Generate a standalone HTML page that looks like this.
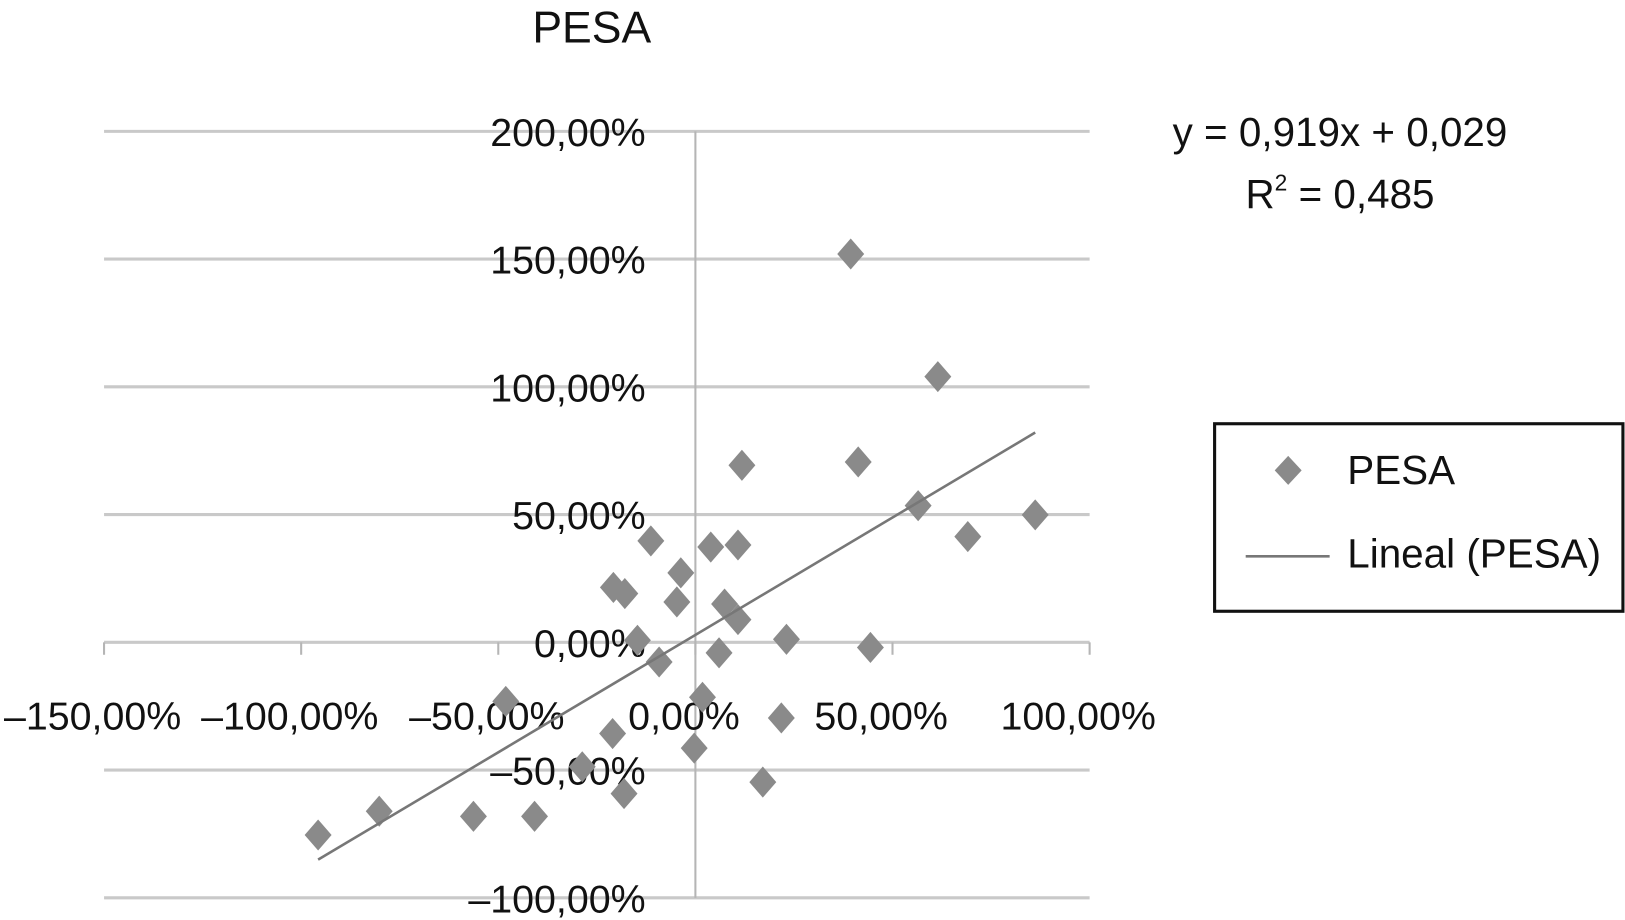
<!DOCTYPE html>
<html><head><meta charset="utf-8"><style>
html,body{margin:0;padding:0;background:#fff;}
svg{display:block;font-family:"Liberation Sans",sans-serif;}
</style></head><body>
<svg id="chart" width="1625" height="920" viewBox="0 0 1568 888" preserveAspectRatio="none">
<text x="571" y="41" font-size="43" text-anchor="middle" fill="#111">PESA</text>
<g id="grid"></g><g id="axes"></g><g id="marks"></g>
<text x="1293" y="141" font-size="39" text-anchor="middle" fill="#111">y = 0,919x + 0,029</text>
<text x="1293" y="201" font-size="39" text-anchor="middle" fill="#111">R<tspan font-size="22" dy="-17">2</tspan><tspan dy="17"> = 0,485</tspan></text>
<g>
<rect x="1172" y="409" width="394" height="181" fill="#fff" stroke="#111" stroke-width="3"/>
<path d="M1243 440 L1256 454 L1243 468 L1230 454 Z" fill="#8a8a8a"/>
<text x="1300" y="467" font-size="39" fill="#111">PESA</text>
<line x1="1202" y1="537" x2="1283" y2="537" stroke="#777" stroke-width="2.5"/>
<text x="1300" y="548" font-size="39" fill="#111">Lineal (PESA)</text>
</g>
</svg>
<script>
const xVals=[39.4,61.5,41.3,11.8,56.5,86.2,69.1,-11.3,3.9,10.8,-3.7,-20.8,-17.9,-4.7,7.4,10.8,-14.7,23.1,44.4,6.0,-9.2,1.8,-48.1,21.8,-21.0,-0.3,-28.7,17.1,-18.1,-56.3,-40.8,-80.2,-95.7];
const yVals=[152,104,70.6,69.3,53.5,49.9,41.4,39.7,37.3,38.1,27.2,21.5,19.1,15.8,15.0,8.9,0.8,1.2,-2.0,-4.1,-7.7,-21.5,-23.1,-29.6,-35.7,-41.4,-48.7,-54.7,-59.2,-68.1,-68.1,-66.1,-75.4];
const xTicks=[-150,-100,-50,0,50,100];
const xTickLabels=["\u2013150,00%","\u2013100,00%","\u201350,00%","0,00%","50,00%","100,00%"];
const yTicks=[200,150,100,50,0,-50,-100];
const yTickLabels=["200,00%","150,00%","100,00%","50,00%","0,00%","\u201350,00%","\u2013100,00%"];
const slope=0.919, intercept=2.9;
const NS="http://www.w3.org/2000/svg";
const X=v=>671+v*190.2/50;
const Y=v=>620-v*123.3/50;
function mk(tag,attrs,parent,txt){const e=document.createElementNS(NS,tag);for(const k in attrs)e.setAttribute(k,attrs[k]);if(txt!==undefined)e.textContent=txt;parent.appendChild(e);return e;}
const grid=document.getElementById('grid'),axes=document.getElementById('axes'),marks=document.getElementById('marks');
yTicks.forEach((t,i)=>{
 const l=mk('line',{x1:X(-150),x2:X(100),y1:Y(t),y2:Y(t),stroke:'#c9c9c9','stroke-width':3},grid);
 
 
 const tx=mk('text',{x:623,y:Y(t)+14,'font-size':38,'text-anchor':'end',fill:'#111'},axes,yTickLabels[i]);
 
 
});
const va=mk('line',{x1:X(0),x2:X(0),y1:Y(200),y2:Y(-100),stroke:'#b5b5b5','stroke-width':2},axes);


xTicks.forEach((t,i)=>{
 const tk=mk('line',{x1:X(t),x2:X(t),y1:Y(0),y2:Y(0)+12,stroke:'#b5b5b5','stroke-width':2},axes);
 
 
 const tx=mk('text',{x:X(t)-11,y:704,'font-size':38,'text-anchor':'middle',fill:'#111'},axes,xTickLabels[i]);
 
 
});
xVals.forEach((xv,i)=>{
 const cx=X(xv),cy=Y(yVals[i]);
 const p=mk('path',{d:`M${cx} ${cy-15} L${cx+13} ${cy} L${cx} ${cy+15} L${cx-13} ${cy} Z`,fill:'#8a8a8a'},marks);
 
 
});
const xmin=Math.min(...xVals),xmax=Math.max(...xVals);
const tl=mk('line',{x1:X(xmin),y1:Y(slope*xmin+intercept),x2:X(xmax),y2:Y(slope*xmax+intercept),stroke:'#777','stroke-width':2.5},marks);


</script>
</body></html>
